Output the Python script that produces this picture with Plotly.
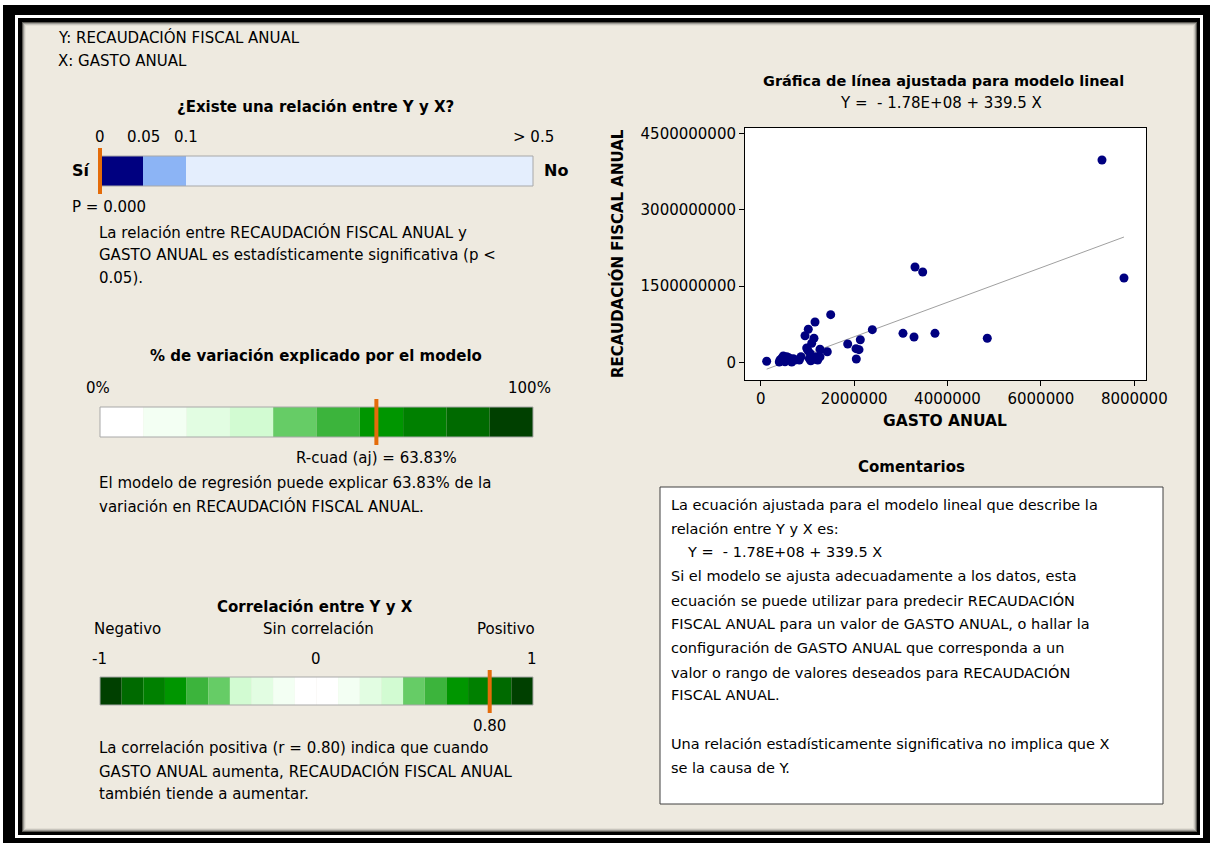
import plotly.graph_objects as go

W, H = 1215, 848

# ---------------- data ----------------
gasto_anual = [7308000, 7779000, 3304000, 3469000, 4852000, 3732000, 3047000, 3283000,
               2390000, 2133000, 1863000, 2041000, 2105000, 2047000, 1499000, 1163000,
               1019000, 949000, 1141000, 1092000, 985000, 1270000, 1426000, 1056000,
               1270000, 1092000, 1221000, 863000, 827000, 664000, 664000, 557000,
               484000, 413000, 398000, 520000, 128000, 734000, 1041000, 1070000,
               1184000, 1006000, 600000, 700000, 450000]
recaudacion = [3977000000, 1657000000, 1874000000, 1775000000, 472000000, 570000000,
               570000000, 497000000, 641000000, 444000000, 360000000, 268000000,
               248000000, 65000000, 936000000, 792000000, 649000000, 523000000,
               472000000, 374000000, 281000000, 256000000, 208000000, 177000000,
               110000000, 45000000, 45000000, 110000000, 45000000, 59000000,
               5000000, 110000000, 124000000, 45000000, 5000000, 10000000,
               20000000, 45000000, 71000000, 30000000, 110000000, 242000000,
               90000000, 70000000, 80000000]
intercept = -1.78e8
slope = 339.5

p_value = 0.000
p_ticks = [0, 0.05, 0.1, 0.5]
p_tick_labels = ["0", "0.05", "0.1", "> 0.5"]
r2_adj = 63.83
r_corr = 0.80

x_tickvals = [0, 2000000, 4000000, 6000000, 8000000]
y_tickvals = [0, 1500000000, 3000000000, 4500000000]

r2_colors = ["#FFFFFF", "#F3FFF3", "#E2FDE2", "#D2FBD2", "#66CC66",
             "#3CB43C", "#009600", "#008000", "#006A00", "#004000"]
corr_colors = list(reversed(r2_colors))[:-1] + ["#FFFFFF", "#FFFFFF"] + r2_colors[1:]

FONT = "DejaVu Sans"
ORANGE = "#E46C0A"
BEIGE = "#EEEAE0"
FS = 15


def px(x):
    return x / W


def py(y):
    return 1 - y / H


shapes = []


def rect(x0, y0, x1, y1, fill, line_color=None, lw=0):
    shapes.append(dict(type="rect", xref="paper", yref="paper", layer="below",
                       x0=px(x0), x1=px(x1), y0=py(y1), y1=py(y0),
                       fillcolor=fill,
                       line=dict(color=line_color or fill, width=lw)))


annotations = []


def text(x, y, s, size=FS, bold=False, anchor="left", color="black", angle=0):
    if bold:
        s = "<b>" + s + "</b>"
    annotations.append(dict(xref="paper", yref="paper", x=px(x), y=py(y), text=s,
                            showarrow=False, xanchor=anchor, yanchor="middle",
                            textangle=angle,
                            font=dict(family=FONT, size=size, color=color)))


# ---------------- frame ----------------
rect(3, 5, 1210, 843, "black")
rect(15, 15, 1203, 838, "white")
rect(18, 18, 1200, 835, "black")
rect(22, 22, 1197, 832, "#5A5852")
rect(23, 23, 1196, 831, "#9C9A94")
rect(24, 24, 1195, 830, "#C8C5BD")
rect(25, 25, 1194, 829, "#E2DED4")
rect(26, 26, 1193, 828, BEIGE)

# ---------------- header ----------------
text(56, 38, "Y: RECAUDACIÓN FISCAL ANUAL")
text(56, 61, "X: GASTO ANUAL")

# ---------------- p-value bar ----------------
BX0, BX1 = 100, 533


def p_scale(v):
    if v <= 0.1:
        return BX0 + v / 0.1 * 86
    return BX0 + 86 + (min(v, 0.5) - 0.1) / 0.4 * (BX1 - BX0 - 86)


text(315, 107, "¿Existe una relación entre Y y X?", bold=True, anchor="center")
p_cols = ["#000080", "#8CB4F5", "#E4EEFD"]
for i in range(3):
    rect(p_scale(p_ticks[i]), 156, p_scale(p_ticks[i + 1]), 186, p_cols[i])
rect(BX0, 156, BX1, 186, "rgba(0,0,0,0)", "#A8A8A8", 1)
for v, lab in zip(p_ticks, p_tick_labels):
    text(p_scale(v), 137, lab, anchor="center")
text(93, 170, "Sí", size=16, bold=True, anchor="right")
text(542, 170, "No", size=16, bold=True)
pm = p_scale(p_value)
rect(pm - 2, 148, pm + 2, 194, ORANGE)
text(70, 207, "P = 0.000")
text(97, 232, "La relación entre RECAUDACIÓN FISCAL ANUAL y")
text(97, 255, "GASTO ANUAL es estadísticamente significativa (p &lt;")
text(97, 278, "0.05).")

# ---------------- R2 bar ----------------
text(316, 356, "% de variación explicado por el modelo", bold=True, anchor="center")
text(84, 388, "0%")
text(553, 388, "100%", anchor="right")
seg = (BX1 - BX0) / len(r2_colors)
for i, c in enumerate(r2_colors):
    rect(BX0 + i * seg, 407, BX0 + (i + 1) * seg, 437, c)
rect(BX0, 407, BX1, 437, "rgba(0,0,0,0)", "#A8A8A8", 1)
rm = BX0 + r2_adj / 100 * (BX1 - BX0)
rect(rm - 2, 399, rm + 2, 445, ORANGE)
text(rm, 458, "R-cuad (aj) = %.2f%%" % r2_adj, anchor="center")
text(97, 483, "El modelo de regresión puede explicar %.2f%% de la" % r2_adj)
text(97, 507, "variación en RECAUDACIÓN FISCAL ANUAL.")

# ---------------- correlation bar ----------------
text(315, 607, "Correlación entre Y y X", bold=True, anchor="center")
text(92, 629, "Negativo")
text(318, 629, "Sin correlación", anchor="center")
text(537, 629, "Positivo", anchor="right")
text(99, 659, "-1", anchor="center")
text(316, 659, "0", anchor="center")
text(532, 659, "1", anchor="center")
seg = (BX1 - BX0) / len(corr_colors)
for i, c in enumerate(corr_colors):
    rect(BX0 + i * seg, 677, BX0 + (i + 1) * seg, 705, c)
rect(BX0, 677, BX1, 705, "rgba(0,0,0,0)", "#A8A8A8", 1)
cm = BX0 + (r_corr + 1) / 2 * (BX1 - BX0)
rect(cm - 2, 670, cm + 2, 713, ORANGE)
text(cm, 726, "%.2f" % r_corr, anchor="center")
text(97, 748, "La correlación positiva (r = %.2f) indica que cuando" % r_corr)
text(97, 771, "GASTO ANUAL aumenta, RECAUDACIÓN FISCAL ANUAL")
text(97, 794, "también tiende a aumentar.")

# ---------------- scatter panel ----------------
PX0, PX1, PY0, PY1 = 745, 1146, 128, 380
rect(PX0, PY0, PX1, PY1, "white")
text(944, 81, "Gráfica de línea ajustada para modelo lineal", size=14.5, bold=True, anchor="center")
eq = "Y =  - 1.78E+08 + %.1f X" % slope
text(941, 103, eq, anchor="center")
text(617, 254, "RECAUDACIÓN FISCAL ANUAL", size=15, bold=True, anchor="center", angle=-90)
text(945, 421, "GASTO ANUAL", size=15.5, bold=True, anchor="center")

# ---------------- comments ----------------
text(911, 467, "Comentarios", bold=True, anchor="center")
rect(660, 487, 1163, 804, "white", "#404040", 1)
comment_lines = [
    (669, 505, "La ecuación ajustada para el modelo lineal que describe la"),
    (669, 529, "relación entre Y y X es:"),
    (685, 552, eq),
    (669, 576, "Si el modelo se ajusta adecuadamente a los datos, esta"),
    (669, 600, "ecuación se puede utilizar para predecir RECAUDACIÓN"),
    (669, 624, "FISCAL ANUAL para un valor de GASTO ANUAL, o hallar la"),
    (669, 648, "configuración de GASTO ANUAL que corresponda a un"),
    (669, 672, "valor o rango de valores deseados para RECAUDACIÓN"),
    (669, 695, "FISCAL ANUAL."),
    (669, 744, "Una relación estadísticamente significativa no implica que X"),
    (669, 768, "se la causa de Y."),
]
for x, y, s in comment_lines:
    text(x, y, s, size=14.5)

# ---------------- traces ----------------
fig = go.Figure()
xl = [min(gasto_anual), max(gasto_anual)]
fig.add_trace(go.Scatter(x=xl, y=[intercept + slope * v for v in xl], mode="lines",
                         line=dict(color="#A0A0A0", width=1), hoverinfo="skip"))
fig.add_trace(go.Scatter(x=gasto_anual, y=recaudacion, mode="markers",
                         marker=dict(color="#000080", size=9)))

x_per_px = 2000000 / 93.4
y_per_px = 1500000000 / 76.3
fig.update_layout(
    width=W, height=H, autosize=False, margin=dict(l=0, r=0, t=0, b=0, pad=0, autoexpand=False),
    paper_bgcolor="white", plot_bgcolor="white", showlegend=False,
    shapes=shapes, annotations=annotations,
    font=dict(family=FONT, size=FS, color="black"),
    xaxis=dict(domain=[px(PX0), px(PX1)], automargin=False,
               range=[-(760.7 - PX0) * x_per_px, (PX1 - 760.7) * x_per_px],
               tickvals=x_tickvals, ticktext=[str(v) for v in x_tickvals],
               ticks="outside", ticklen=5, tickcolor="black",
               showline=True, linecolor="black", mirror=True, linewidth=1,
               showgrid=False, zeroline=False,
               tickfont=dict(family=FONT, size=15)),
    yaxis=dict(domain=[py(PY1), py(PY0)], automargin=False,
               range=[-(PY1 - 362.3) * y_per_px, (362.3 - PY0) * y_per_px],
               tickvals=y_tickvals, ticktext=[str(v) for v in y_tickvals],
               ticks="outside", ticklen=5, tickcolor="black",
               showline=True, linecolor="black", mirror=True, linewidth=1,
               showgrid=False, zeroline=False,
               tickfont=dict(family=FONT, size=15)),
)

fig.write_html("out.html",
               config={"responsive": False, "displayModeBar": False},
               post_script="document.body.style.margin='0';document.body.style.overflow='hidden';")
